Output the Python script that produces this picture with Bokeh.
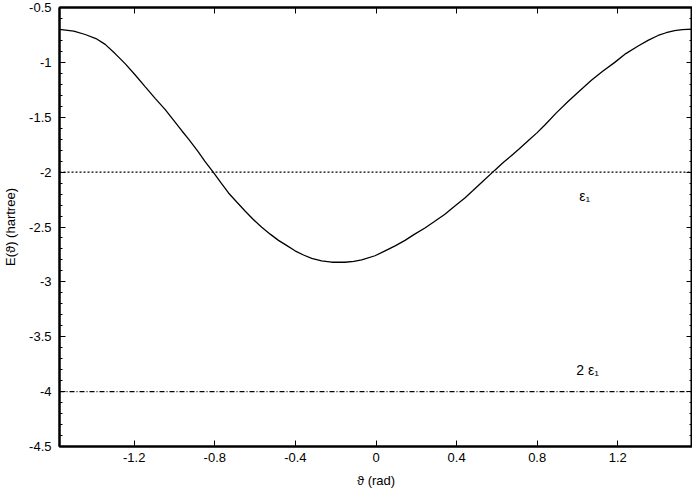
from bokeh.plotting import figure
from bokeh.models import (LinearAxis, FixedTicker, SingleIntervalTicker, Range1d,
                          Span, ColumnDataSource, CustomJSTickFormatter)
from bokeh.core.properties import value
from bokeh.embed import file_html
from bokeh.resources import INLINE

# ---- data ----
theta = [-1.5708, -1.500, -1.443, -1.390, -1.344, -1.295, -1.244, -1.195, -1.145,
         -1.095, -1.046, -0.963, -0.930, -0.881, -0.850, -0.807, -0.770, -0.732,
         -0.690, -0.650, -0.610, -0.567, -0.525, -0.484, -0.440, -0.402, -0.360,
         -0.319, -0.270, -0.220, -0.154, -0.110, -0.071, -0.005, 0.045, 0.095,
         0.144, 0.190, 0.243, 0.290, 0.342, 0.390, 0.441, 0.480, 0.524, 0.590,
         0.630, 0.673, 0.710, 0.755, 0.800, 0.838, 0.895, 0.953, 1.010, 1.069,
         1.125, 1.185, 1.240, 1.301, 1.350, 1.400, 1.440, 1.482, 1.520, 1.5708]
energy = [-0.699, -0.715, -0.746, -0.783, -0.836, -0.920, -1.014, -1.115, -1.223,
          -1.330, -1.431, -1.625, -1.700, -1.818, -1.900, -2.003, -2.095, -2.190,
          -2.275, -2.354, -2.430, -2.503, -2.565, -2.622, -2.672, -2.717, -2.755,
          -2.786, -2.808, -2.821, -2.821, -2.814, -2.800, -2.762, -2.717, -2.672,
          -2.622, -2.567, -2.509, -2.450, -2.384, -2.310, -2.235, -2.170, -2.095,
          -1.982, -1.915, -1.848, -1.790, -1.714, -1.640, -1.570, -1.460, -1.357,
          -1.260, -1.163, -1.080, -1.000, -0.920, -0.851, -0.800, -0.755, -0.730,
          -0.711, -0.701, -0.696]
eps1 = -2.0
two_eps1 = -4.0
label_x = [1.036, 1.05]
label_y = [-2.22, -3.80]
label_text = ["ε₁", "2 ε₁"]
x_ticks = [-1.2, -0.8, -0.4, 0, 0.4, 0.8, 1.2]
x_range = (-1.5708, 1.5708)
y_range = (-4.5, -0.5)

FONT = "Liberation Sans"

p = figure(width=692, height=490, output_backend="svg", toolbar_location=None,
           x_range=Range1d(*x_range), y_range=Range1d(*y_range),
           min_border_left=55, min_border_right=0, min_border_top=7,
           min_border_bottom=0)
p.background_fill_color = "white"
p.border_fill_color = "white"
p.xgrid.visible = False
p.ygrid.visible = False
p.outline_line_color = "black"
p.outline_line_width = 2

xt = FixedTicker(ticks=x_ticks, minor_ticks=[])
yt = SingleIntervalTicker(interval=0.5, num_minor_ticks=5)
fmt = CustomJSTickFormatter(code="return String(Number(tick.toFixed(2)));")
blank = CustomJSTickFormatter(code="return '';")

def style(ax, show_labels):
    ax.axis_line_color = "black"
    ax.axis_line_width = 2
    ax.major_tick_in = 6
    ax.major_tick_out = 0
    ax.minor_tick_in = 3
    ax.minor_tick_out = 0
    ax.major_tick_line_color = "black"
    ax.minor_tick_line_color = "black"
    if show_labels:
        ax.formatter = fmt
        ax.major_label_text_font = FONT
        ax.major_label_text_font_size = "13px"
        ax.major_label_text_color = "black"
        ax.axis_label_text_font = FONT
        ax.axis_label_text_font_size = "13px"
        ax.axis_label_text_font_style = "normal"
        ax.axis_label_text_color = "black"
    else:
        ax.formatter = blank
        ax.major_label_text_font_size = "1px"
        ax.major_label_standoff = 0
        ax.axis_label = None

# bottom / left
p.xaxis.ticker = xt
p.yaxis.ticker = yt
p.xaxis.axis_label = "ϑ (rad)"
p.yaxis.axis_label = "E(ϑ) (hartree)"
for ax in p.xaxis:
    style(ax, True)
    ax.minor_tick_in = 0
    ax.major_label_standoff = 6
    ax.axis_label_standoff = 8
for ax in p.yaxis:
    style(ax, True)
    ax.major_label_standoff = 8
    ax.axis_label_standoff = 8

# mirrored axes
top = LinearAxis(ticker=xt)
style(top, False)
top.minor_tick_in = 0
p.add_layout(top, "above")
right = LinearAxis(ticker=yt)
style(right, False)
p.add_layout(right, "right")

# curve
src = ColumnDataSource(dict(x=theta, y=energy))
p.line("x", "y", source=src, line_color="black", line_width=1.3)

# horizontal reference lines
p.add_layout(Span(location=eps1, dimension="width", line_color="black",
                  line_width=1.2, line_dash="2 2"))
p.add_layout(Span(location=two_eps1, dimension="width", line_color="black",
                  line_width=1.2, line_dash="5 2 1 2"))

# labels
lsrc = ColumnDataSource(dict(x=label_x, y=label_y, t=label_text))
p.text("x", "y", text="t", source=lsrc, text_font=value(FONT),
       text_font_size="14px", text_align="center", text_baseline="middle",
       text_color="black")

open("out.html", "w").write(file_html(p, INLINE))
